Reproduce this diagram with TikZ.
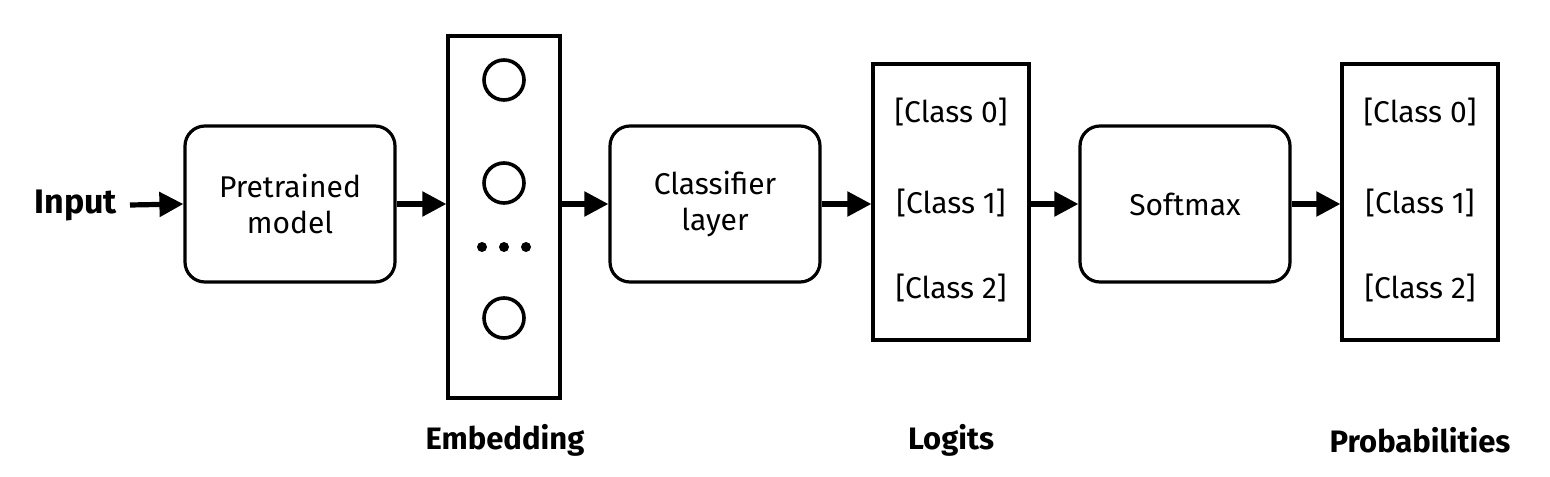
\documentclass[tikz,border=0pt]{standalone}
\usepackage{fontspec}
\setmainfont{Fira Sans}
\usetikzlibrary{arrows.meta}
\begin{document}
\begin{tikzpicture}[x=0.5pt,y=-0.5pt,
  rbox/.style={draw,line width=1.6pt,rounded corners=10pt,minimum width=105pt,minimum height=78pt,align=center,font=\fontsize{15}{18}\selectfont},
  col/.style={draw,line width=1.6pt},
  lab/.style={font=\fontsize{15.5}{18}\selectfont\bfseries},
  cls/.style={font=\fontsize{15}{18}\selectfont},
  arr/.style={line width=2.6pt,-{Triangle[length=12pt,width=12pt]}},
  circ/.style={draw,line width=1.8pt,circle,minimum size=20pt,inner sep=0pt},
  dot/.style={fill,circle,minimum size=5pt,inner sep=0pt}]
\useasboundingbox (0,0) rectangle (1550,476);
\node[lab,anchor=east,font=\fontsize{17}{18}\selectfont\bfseries] (in) at (124,205) {Input};
\node[rbox] (pm) at (290,204) {Pretrained\\model};
\node[col,minimum width=56pt,minimum height=181pt] (emb) at (504,217) {};
\node[circ] (c1) at (504,80) {};
\node[circ] (c2) at (504,183) {};
\node[dot] (d1) at (482,247) {};
\node[dot] (d2) at (504,247) {};
\node[dot] (d3) at (526,247) {};
\node[circ] (c3) at (504,318) {};
\node[rbox] (cl) at (715,204) {Classifier\\layer};
\node[col,minimum width=78pt,minimum height=138pt] (lg) at (951,202) {};
\node[cls] (l0) at (951,112) {[Class 0]};
\node[cls] (l1) at (951,203) {[Class 1]};
\node[cls] (l2) at (951,288) {[Class 2]};
\node[rbox] (sm) at (1185,204) {Softmax};
\node[col,minimum width=78pt,minimum height=138pt] (pr) at (1420,202) {};
\node[cls] (p0) at (1420,112) {[Class 0]};
\node[cls] (p1) at (1420,203) {[Class 1]};
\node[cls] (p2) at (1420,288) {[Class 2]};
\node[lab] (le) at (505,440) {Embedding};
\node[lab] (ll) at (951,440) {Logits};
\node[lab] (lp) at (1420,440) {Probabilities};
\draw[arr] ([xshift=3pt]in.east) -- (pm.west);
\draw[arr] (pm.east) -- (pm.east -| emb.west);
\draw[arr] (emb.east |- cl.west) -- (cl.west);
\draw[arr] (cl.east) -- (cl.east -| lg.west);
\draw[arr] (lg.east |- sm.west) -- (sm.west);
\draw[arr] (sm.east) -- (sm.east -| pr.west);
\end{tikzpicture}
\end{document}
